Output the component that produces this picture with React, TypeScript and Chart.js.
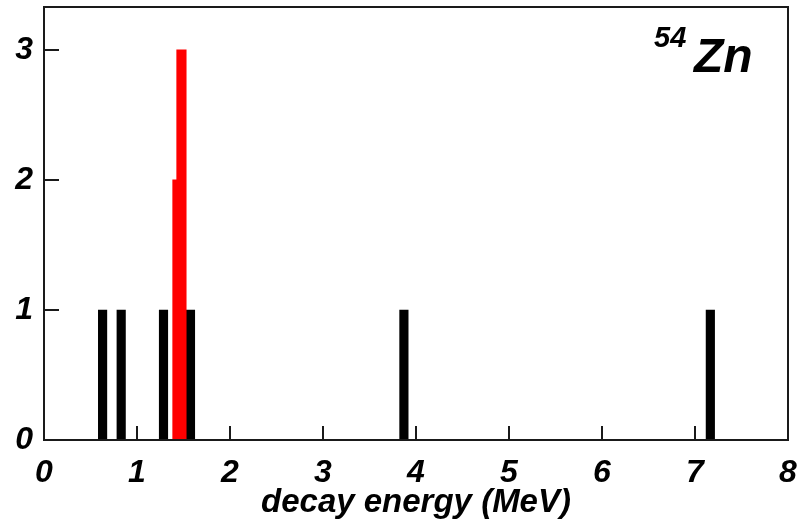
import React, { useEffect, useRef } from "react";
import { Chart, registerables } from "chart.js";

Chart.register(...registerables);

// decay energies (MeV) of single events, black histogram
const blackEnergies = [0.63, 0.83, 1.285, 1.575, 3.87, 7.165];
const blackCounts = [1, 1, 1, 1, 1, 1];
// red histogram (two bins)
const redLowEnergies = [1.408];
const redLowCounts = [2];
const redHighEnergies = [1.478];
const redHighCounts = [3];

const xTicks = [0, 1, 2, 3, 4, 5, 6, 7, 8];
const yTicks = [0, 1, 2, 3];
const xTitle = "decay energy (MeV)";
const isotopeMass = "54";
const isotopeSymbol = "Zn";

const FONT = "'Liberation Sans', Arial, Helvetica, sans-serif";
const FRAME = "#1a1a1a";

const framePlugin = {
  id: "frameAndTicks",
  afterDatasetsDraw(chart: any) {
    const { ctx, chartArea, scales } = chart;
    const { left, right, top, bottom } = chartArea;
    ctx.save();
    ctx.strokeStyle = FRAME;
    ctx.lineWidth = 2;
    ctx.lineCap = "butt";
    // inward ticks
    ctx.beginPath();
    for (const v of xTicks) {
      const px = scales.x.getPixelForValue(v);
      ctx.moveTo(px, bottom);
      ctx.lineTo(px, bottom - 14);
    }
    for (const v of yTicks) {
      const py = scales.y.getPixelForValue(v);
      ctx.moveTo(left, py);
      ctx.lineTo(left + 15, py);
    }
    ctx.stroke();
    // frame
    ctx.strokeRect(left, top, right - left, bottom - top);
    // isotope label
    ctx.fillStyle = "#000";
    ctx.textBaseline = "alphabetic";
    ctx.textAlign = "left";
    ctx.font = `italic bold 29px ${FONT}`;
    ctx.fillText(isotopeMass, 654, 47);
    ctx.font = `italic bold 48px ${FONT}`;
    ctx.fillText(isotopeSymbol, 694, 72);
    ctx.restore();
  },
};

const zeroPad = (s: any) => {
  s.paddingTop = 0;
  s.paddingBottom = 0;
  s.paddingLeft = 0;
  s.paddingRight = 0;
};

export default function App() {
  const ref = useRef<HTMLCanvasElement | null>(null);

  useEffect(() => {
    if (!ref.current) return;
    const toPts = (xs: number[], ys: number[]) => xs.map((x, i) => ({ x, y: ys[i] }));
    const chart = new Chart(ref.current, {
      type: "bar",
      data: {
        datasets: [
          {
            data: toPts(redLowEnergies, redLowCounts),
            backgroundColor: "#ff0000",
            barThickness: 4.5,
            grouped: false,
            borderWidth: 0,
          },
          {
            data: toPts(redHighEnergies, redHighCounts),
            backgroundColor: "#ff0000",
            barThickness: 9.5,
            grouped: false,
            borderWidth: 0,
          },
          {
            data: toPts(blackEnergies, blackCounts),
            backgroundColor: "#000000",
            barThickness: 8.5,
            grouped: false,
            borderWidth: 0,
          },
        ] as any,
      },
      options: {
        animation: false,
        responsive: false,
        maintainAspectRatio: false,
        layout: { padding: { top: 7, right: 11, left: 0, bottom: 0 } },
        plugins: { legend: { display: false }, tooltip: { enabled: false }, title: { display: false } },
        scales: {
          x: {
            type: "linear",
            min: 0,
            max: 8,
            offset: false,
            grid: { display: false, drawTicks: false },
            border: { display: false },
            afterBuildTicks: (s: any) => {
              s.ticks = xTicks.map((v) => ({ value: v }));
            },
            afterFit: (s: any) => {
              s.height = 84;
              zeroPad(s);
            },
            ticks: {
              color: "#000",
              padding: 14,
              maxRotation: 0,
              autoSkip: false,
              font: { family: FONT, size: 32, weight: "bold", style: "italic" },
            },
            title: {
              display: true,
              text: xTitle,
              color: "#000",
              padding: { top: 0, bottom: 1 },
              font: { family: FONT, size: 33, weight: "bold", style: "italic" },
            },
          },
          y: {
            type: "linear",
            min: 0,
            max: 3.33,
            grid: { display: false, drawTicks: false },
            border: { display: false },
            afterBuildTicks: (s: any) => {
              s.ticks = yTicks.map((v) => ({ value: v }));
            },
            afterFit: (s: any) => {
              s.width = 44;
              zeroPad(s);
            },
            ticks: {
              color: "#000",
              padding: 11,
              font: { family: FONT, size: 32, weight: "bold", style: "italic" },
            },
          },
        },
      } as any,
      plugins: [framePlugin],
    });
    return () => chart.destroy();
  }, []);

  return (
    <div style={{ position: "absolute", left: 0, top: 0, width: 799, height: 524, background: "#fff" }}>
      <canvas ref={ref} width={799} height={524} style={{ display: "block", width: 799, height: 524 }} />
    </div>
  );
}
